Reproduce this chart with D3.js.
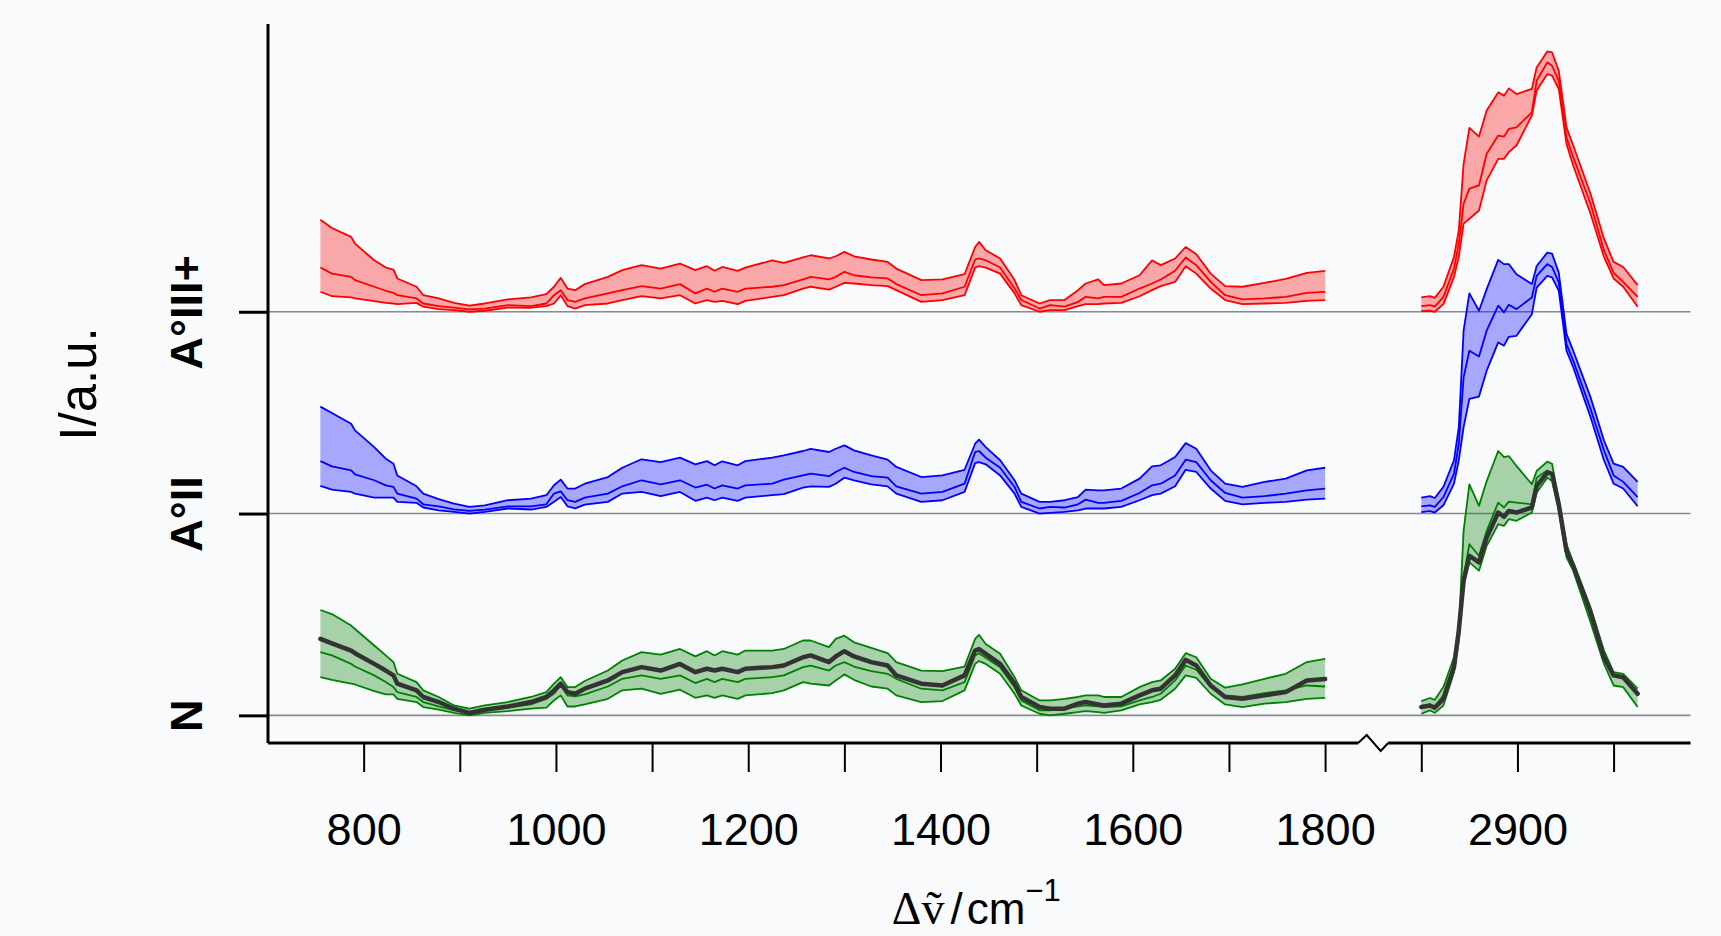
<!DOCTYPE html>
<html><head><meta charset="utf-8">
<script src="https://cdn.jsdelivr.net/npm/d3@7"></script>
<style>html,body{margin:0;padding:0;background:#f8fafc;}svg{display:block}</style>
</head><body><svg id="chart" width="1721" height="936"></svg>
<script>
// Raman shift (cm^-1): fingerprint region + CH-stretch region (axis is broken)
const wavenumbers = [
755, 767, 787, 791, 811, 823, 831, 835, 855, 862,
878, 894, 910, 926, 950, 974, 990, 998, 1005, 1012,
1020, 1030, 1054, 1069, 1089, 1109, 1129, 1145, 1157, 1165,
1173, 1189, 1197, 1225, 1237, 1257,
1265, 1284, 1291, 1300, 1310, 1328, 1345, 1354, 1380, 1402,
1425, 1436, 1440, 1447, 1462, 1477, 1484, 1503, 1514, 1529,
1543, 1551, 1564, 1570, 1588, 1607, 1620, 1629, 1644, 1655,
1666, 1681, 1696, 1714, 1737, 1759, 1781, 1800,
2800, 2809, 2814, 2823, 2834, 2839, 2844, 2850, 2860, 2868,
2880, 2886, 2891, 2899, 2915, 2920, 2931, 2936, 2943, 2951,
2958, 2976, 2990, 3000, 3010, 3025];

const groups = ["N", "A°II", "A°III+"];
const offsets = [0, 1, 2];
const colors = ["#008000", "#0000ff", "#ff0000"];

// N (green)
const nUpper = [
0.522,0.502,0.445,0.428,0.346,0.297,0.264,0.206,0.165,0.124,0.091,0.049,0.033,0.049,0.066,0.091,0.115,0.157,0.189,0.140,0.140,0.170,0.222,0.272,0.313,0.301,0.329,0.292,0.318,0.297,0.318,0.301,0.321,0.321,0.329,0.371,
0.371,0.338,0.379,0.395,0.362,0.334,0.308,0.264,0.222,0.219,0.242,0.379,0.399,0.354,0.305,0.189,0.124,0.074,0.074,0.082,0.091,0.099,0.099,0.091,0.091,0.140,0.165,0.173,0.231,0.308,0.288,0.181,0.137,0.153,0.181,0.206,0.264,0.280,
0.071,0.086,0.077,0.140,0.288,0.420,0.914,1.145,1.038,1.161,1.310,1.280,1.285,1.236,1.145,1.211,1.257,1.247,1.063,0.848,0.758,0.535,0.321,0.214,0.206,0.132];
const nMedian = [
0.313,0.297,0.255,0.242,0.198,0.165,0.140,0.115,0.091,0.066,0.044,0.025,0.012,0.025,0.038,0.054,0.082,0.107,0.148,0.099,0.094,0.104,0.143,0.181,0.198,0.181,0.198,0.160,0.181,0.165,0.181,0.165,0.181,0.189,0.198,0.239,
0.247,0.222,0.247,0.264,0.242,0.219,0.206,0.181,0.132,0.124,0.165,0.297,0.308,0.285,0.239,0.140,0.074,0.025,0.025,0.033,0.044,0.049,0.044,0.041,0.044,0.074,0.091,0.107,0.173,0.247,0.226,0.140,0.099,0.091,0.110,0.124,0.148,0.143,
0.041,0.054,0.041,0.099,0.255,0.437,0.684,0.848,0.791,0.914,1.054,1.030,1.059,1.054,1.046,1.178,1.214,1.198,1.054,0.824,0.750,0.511,0.297,0.198,0.189,0.107];
const nLower = [
0.189,0.176,0.157,0.153,0.120,0.104,0.104,0.082,0.066,0.041,0.028,0.012,0.000,0.012,0.021,0.033,0.038,0.074,0.099,0.044,0.044,0.054,0.082,0.124,0.132,0.107,0.127,0.087,0.099,0.087,0.099,0.082,0.099,0.110,0.124,0.165,
0.157,0.148,0.173,0.203,0.176,0.143,0.132,0.099,0.066,0.071,0.124,0.255,0.269,0.255,0.206,0.107,0.049,0.008,0.000,0.008,0.016,0.021,0.016,0.012,0.025,0.054,0.066,0.077,0.132,0.198,0.186,0.107,0.054,0.041,0.058,0.066,0.082,0.087,
0.008,0.025,0.012,0.049,0.214,0.371,0.651,0.758,0.717,0.840,0.947,0.939,0.972,0.964,1.005,1.104,1.178,1.161,1.013,0.783,0.717,0.461,0.255,0.148,0.140,0.041];
const nMean = [
0.379,0.357,0.321,0.308,0.255,0.222,0.198,0.157,0.124,0.091,0.066,0.033,0.012,0.028,0.044,0.066,0.091,0.124,0.157,0.115,0.107,0.132,0.173,0.214,0.239,0.222,0.255,0.214,0.231,0.222,0.231,0.214,0.231,0.239,0.247,0.288,
0.297,0.264,0.292,0.318,0.292,0.264,0.247,0.198,0.157,0.148,0.198,0.321,0.329,0.305,0.255,0.157,0.091,0.041,0.033,0.033,0.058,0.066,0.054,0.049,0.058,0.099,0.124,0.132,0.198,0.275,0.247,0.148,0.091,0.082,0.099,0.115,0.173,0.180,
0.041,0.049,0.038,0.082,0.239,0.420,0.667,0.791,0.758,0.881,1.005,0.984,1.013,1.005,1.030,1.137,1.203,1.198,1.046,0.815,0.741,0.511,0.288,0.198,0.189,0.107];

// A°II (blue)
const a2Upper = [
0.530,0.498,0.445,0.412,0.329,0.272,0.247,0.189,0.135,0.099,0.072,0.049,0.033,0.041,0.066,0.074,0.091,0.140,0.168,0.124,0.124,0.148,0.181,0.227,0.269,0.255,0.277,0.244,0.260,0.239,0.259,0.239,0.260,0.277,0.288,0.310,
0.321,0.305,0.321,0.338,0.313,0.288,0.267,0.231,0.181,0.189,0.217,0.346,0.366,0.329,0.264,0.165,0.099,0.058,0.058,0.066,0.082,0.119,0.115,0.115,0.124,0.173,0.234,0.239,0.280,0.349,0.321,0.214,0.148,0.132,0.157,0.173,0.214,0.227,
0.079,0.086,0.077,0.132,0.264,0.428,0.906,1.091,1.005,1.112,1.257,1.236,1.236,1.186,1.137,1.227,1.293,1.288,1.194,0.890,0.807,0.577,0.362,0.247,0.231,0.157];
const a2Median = [
0.260,0.234,0.214,0.194,0.165,0.140,0.132,0.099,0.074,0.046,0.036,0.021,0.013,0.020,0.036,0.036,0.046,0.099,0.110,0.066,0.058,0.079,0.099,0.135,0.165,0.145,0.165,0.129,0.143,0.124,0.140,0.124,0.140,0.148,0.168,0.189,
0.198,0.185,0.206,0.227,0.206,0.185,0.178,0.135,0.099,0.107,0.148,0.305,0.310,0.277,0.227,0.132,0.058,0.025,0.033,0.030,0.046,0.069,0.053,0.053,0.063,0.102,0.140,0.148,0.189,0.267,0.255,0.165,0.102,0.079,0.086,0.099,0.115,0.124,
0.036,0.041,0.033,0.082,0.198,0.346,0.675,0.807,0.778,0.906,1.030,0.997,1.035,1.013,1.071,1.178,1.236,1.222,1.145,0.840,0.758,0.519,0.313,0.189,0.157,0.082];
const a2Lower = [
0.137,0.119,0.107,0.099,0.079,0.079,0.079,0.058,0.053,0.030,0.016,0.008,0.000,0.008,0.025,0.020,0.033,0.058,0.082,0.036,0.026,0.044,0.058,0.099,0.107,0.086,0.107,0.063,0.079,0.066,0.079,0.063,0.079,0.091,0.096,0.129,
0.135,0.132,0.148,0.178,0.165,0.145,0.135,0.099,0.058,0.066,0.107,0.250,0.255,0.244,0.189,0.099,0.033,0.000,0.003,0.008,0.016,0.025,0.025,0.025,0.033,0.066,0.091,0.099,0.135,0.217,0.206,0.124,0.063,0.046,0.053,0.058,0.069,0.074,
0.007,0.012,0.005,0.041,0.148,0.264,0.428,0.568,0.580,0.708,0.848,0.832,0.876,0.881,0.988,1.120,1.178,1.170,1.104,0.807,0.725,0.478,0.264,0.148,0.124,0.036];

// A°III+ (red)
const a3Upper = [
0.456,0.415,0.371,0.338,0.255,0.219,0.209,0.165,0.124,0.082,0.066,0.044,0.030,0.041,0.061,0.071,0.087,0.124,0.168,0.115,0.107,0.137,0.173,0.206,0.231,0.214,0.239,0.206,0.226,0.203,0.222,0.203,0.219,0.255,0.242,0.269,
0.280,0.264,0.275,0.297,0.275,0.259,0.247,0.214,0.157,0.160,0.186,0.321,0.346,0.305,0.264,0.157,0.082,0.041,0.058,0.058,0.107,0.140,0.160,0.132,0.140,0.181,0.255,0.231,0.264,0.321,0.285,0.189,0.127,0.124,0.143,0.163,0.193,0.203,
0.071,0.077,0.069,0.124,0.272,0.404,0.733,0.911,0.868,0.997,1.087,1.071,1.107,1.079,1.104,1.211,1.290,1.285,1.194,0.914,0.824,0.585,0.362,0.247,0.222,0.132];
const a3Median = [
0.219,0.189,0.173,0.157,0.124,0.104,0.094,0.082,0.066,0.041,0.028,0.021,0.012,0.016,0.033,0.028,0.041,0.082,0.107,0.058,0.049,0.066,0.091,0.107,0.127,0.115,0.137,0.091,0.115,0.099,0.115,0.099,0.115,0.124,0.132,0.160,
0.173,0.160,0.173,0.198,0.181,0.170,0.165,0.137,0.082,0.091,0.124,0.259,0.264,0.255,0.219,0.115,0.058,0.016,0.033,0.025,0.049,0.074,0.066,0.074,0.074,0.115,0.140,0.160,0.203,0.269,0.231,0.148,0.082,0.061,0.066,0.074,0.094,0.099,
0.028,0.033,0.025,0.074,0.214,0.338,0.535,0.610,0.626,0.783,0.873,0.868,0.906,0.914,0.988,1.145,1.236,1.219,1.145,0.865,0.766,0.535,0.305,0.193,0.148,0.074];
const a3Lower = [
0.099,0.077,0.071,0.066,0.053,0.044,0.041,0.038,0.044,0.025,0.013,0.008,0.000,0.005,0.021,0.020,0.028,0.041,0.082,0.028,0.016,0.033,0.041,0.058,0.077,0.066,0.082,0.041,0.058,0.049,0.054,0.038,0.054,0.074,0.082,0.115,
0.124,0.110,0.124,0.143,0.140,0.132,0.127,0.107,0.049,0.058,0.082,0.219,0.226,0.219,0.189,0.091,0.033,0.000,0.008,0.008,0.028,0.038,0.038,0.041,0.044,0.077,0.107,0.127,0.148,0.226,0.189,0.115,0.058,0.038,0.041,0.044,0.054,0.058,
0.003,0.005,0.000,0.038,0.173,0.272,0.437,0.461,0.502,0.651,0.758,0.758,0.791,0.824,0.972,1.096,1.178,1.170,1.104,0.832,0.725,0.486,0.272,0.165,0.124,0.025];

const xTicks = [800, 900, 1000, 1100, 1200, 1300, 1400, 1500, 1600, 1700, 1800, 2800, 2900, 3000];
const xTickLabels = [800, 1000, 1200, 1400, 1600, 1800, 2900];

// ---------- drawing ----------
const svg = d3.select("#chart");
const W = 1721, H = 936;
svg.append("rect").attr("width", W).attr("height", H).attr("fill", "#f8fafc");

const sans = "'Liberation Sans', Arial, Helvetica, sans-serif";
const serif = "'Liberation Serif', 'DejaVu Serif', 'Times New Roman', serif";

// broken x scale: 700–1800 then 2800–3080 with a 100 cm^-1 gap
const x = d3.scaleLinear()
  .domain([700, 1800, 2800, 3080])
  .range([267.5, 1325.1, 1421.3, 1690.5]);
const y = d3.scaleLinear().domain([-0.137, 3.426]).range([743, 24]);

const seriesByGroup = [
  {upper: nUpper, median: nMedian, lower: nLower, mean: nMean},
  {upper: a2Upper, median: a2Median, lower: a2Lower},
  {upper: a3Upper, median: a3Median, lower: a3Lower}
];

// baselines
svg.append("g").selectAll("line").data(offsets).join("line")
  .attr("x1", x.range()[0]).attr("x2", x.range()[3])
  .attr("y1", d => y(d)).attr("y2", d => y(d))
  .attr("stroke", "#8a8a8a").attr("stroke-width", 1.6);

// segments of the x range (split at the axis break)
const idxLow = wavenumbers.map((w, i) => i).filter(i => wavenumbers[i] <= 1800);
const idxHigh = wavenumbers.map((w, i) => i).filter(i => wavenumbers[i] >= 2800);
const segments = [idxLow, idxHigh];

const plot = svg.append("g");
seriesByGroup.forEach((s, gi) => {
  const off = offsets[gi];
  const col = colors[gi];
  const g = plot.append("g");
  segments.forEach(seg => {
    const area = d3.area()
      .x(i => x(wavenumbers[i]))
      .y0(i => y(off + s.lower[i]))
      .y1(i => y(off + s.upper[i]));
    g.append("path").attr("d", area(seg))
      .attr("fill", col).attr("fill-opacity", 0.33).attr("stroke", "none");
    [s.lower, s.upper, s.median].forEach(arr => {
      const line = d3.line().x(i => x(wavenumbers[i])).y(i => y(off + arr[i]));
      g.append("path").attr("d", line(seg))
        .attr("fill", "none").attr("stroke", col).attr("stroke-width", 1.8)
        .attr("stroke-linejoin", "round");
    });
    if (s.mean) {
      const line = d3.line().x(i => x(wavenumbers[i])).y(i => y(off + s.mean[i]));
      g.append("path").attr("d", line(seg))
        .attr("fill", "none").attr("stroke", "#333333").attr("stroke-width", 4.5)
        .attr("stroke-linejoin", "round").attr("stroke-linecap", "round");
    }
  });
});

// x axis
const xAxis = d3.axisBottom(x).tickValues(xTicks).tickSize(29).tickSizeOuter(0)
  .tickFormat(d => xTickLabels.includes(d) ? String(d) : "");
const gx = svg.append("g").attr("transform", "translate(0,743)").call(xAxis);
gx.select(".domain").attr("stroke", "#000").attr("stroke-width", 3)
  .attr("d", `M${268},0H${x.range()[3]}`);
gx.selectAll(".tick line").attr("stroke", "#000").attr("stroke-width", 2);
gx.selectAll(".tick text").attr("y", 102).attr("dy", null)
  .attr("font-family", sans).attr("font-size", 45).attr("fill", "#000");

// axis break (zigzag)
const bx = (x(1800) + x(2800)) / 2;
svg.append("rect").attr("x", bx - 15).attr("y", 739).attr("width", 30).attr("height", 8)
  .attr("fill", "#f8fafc");
svg.append("polyline")
  .attr("points", `${bx-15},743 ${bx-6.5},735 ${bx+7.5},751 ${bx+15},743`)
  .attr("fill", "none").attr("stroke", "#000").attr("stroke-width", 2);

// y axis
const yAxis = d3.axisLeft(y).tickValues(offsets).tickSize(29).tickSizeOuter(0)
  .tickFormat((d, i) => groups[i]);
const gy = svg.append("g").attr("transform", "translate(268,0)").call(yAxis);
gy.select(".domain").attr("stroke", "#000").attr("stroke-width", 3)
  .attr("d", `M0,${y.range()[1]}V${y.range()[0]}`);
gy.selectAll(".tick line").attr("stroke", "#000").attr("stroke-width", 3);
gy.selectAll(".tick text").attr("x", null).attr("dy", null)
  .attr("text-anchor", "middle")
  .attr("transform", "translate(-66,0) rotate(-90)")
  .attr("font-family", sans).attr("font-size", 45).attr("font-weight", "bold").attr("fill", "#000");

// axis titles
svg.append("text")
  .attr("transform", "translate(96,384) rotate(-90)")
  .attr("text-anchor", "middle")
  .attr("font-family", sans).attr("font-size", 51).attr("fill", "#000")
  .text("I/a.u.");

const xt = svg.append("text")
  .attr("x", (268 + x.range()[3]) / 2 - 3).attr("y", 924)
  .attr("text-anchor", "middle").attr("fill", "#000");
xt.append("tspan").attr("font-family", serif).attr("font-size", 46).text("Δ");
xt.append("tspan").attr("font-family", serif).attr("font-size", 46).text("ṽ");
xt.append("tspan").attr("font-family", sans).attr("font-size", 44).attr("dx", 6).text("/");
xt.append("tspan").attr("font-family", sans).attr("font-size", 44).attr("dx", 4).text("cm");
xt.append("tspan").attr("font-family", sans).attr("font-size", 31).attr("dy", -23).text("−1");
</script></body></html>
